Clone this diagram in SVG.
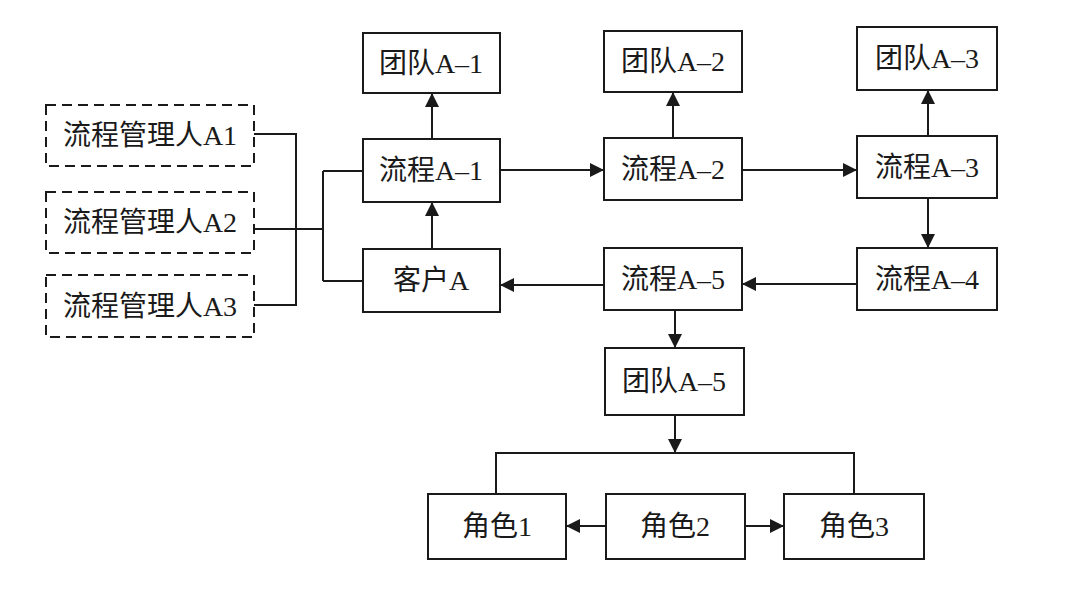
<svg xmlns="http://www.w3.org/2000/svg" width="1080" height="592" viewBox="0 0 1080 592">
<style>
.box{fill:#fff;stroke:#1a1a1a;stroke-width:2}
.dash{fill:#fff;stroke:#1a1a1a;stroke-width:2;stroke-dasharray:10 6}
.t{font-family:"Liberation Serif","Noto Sans CJK SC",serif;font-size:28px;fill:#1a1a1a;text-anchor:middle;dominant-baseline:central}
.c{fill:none;stroke:#1a1a1a;stroke-width:2}
</style>
<defs>
<marker id="ah" viewBox="0 0 10 10" refX="10" refY="5" markerWidth="7" markerHeight="7" orient="auto" markerUnits="strokeWidth">
<path d="M0,0 L10,5 L0,10 z" fill="#1a1a1a"/>
</marker>
</defs>
<rect width="1080" height="592" fill="#fff"/>
<g id="connectors">
<path class="c" d="M254,134 H296 V305 H254 M254,229 H323 M323,171 V281 M323,171 H363 M323,281 H363"/>
<path class="c" marker-end="url(#ah)" d="M432,139 V93"/>
<path class="c" marker-end="url(#ah)" d="M432,249 V202"/>
<path class="c" marker-end="url(#ah)" d="M500,170 H604"/>
<path class="c" marker-end="url(#ah)" d="M673,138 V92"/>
<path class="c" marker-end="url(#ah)" d="M742,170 H857"/>
<path class="c" marker-end="url(#ah)" d="M928,136 V90"/>
<path class="c" marker-end="url(#ah)" d="M928,198 V248"/>
<path class="c" marker-end="url(#ah)" d="M857,284 H742"/>
<path class="c" marker-end="url(#ah)" d="M604,285 H500"/>
<path class="c" marker-end="url(#ah)" d="M675,310 V348"/>
<path class="c" marker-end="url(#ah)" d="M675,415 V453"/>
<path class="c" d="M496,494 V453 H854 V494"/>
<path class="c" marker-end="url(#ah)" d="M606,526 H566"/>
<path class="c" marker-end="url(#ah)" d="M745,526 H784"/>
</g>
<g id="m1"><rect class="dash" x="46" y="105" width="208" height="61"/><text class="t" x="150" y="135">流程管理人A1</text></g>
<g id="m2"><rect class="dash" x="46" y="192" width="208" height="61"/><text class="t" x="150" y="222">流程管理人A2</text></g>
<g id="m3"><rect class="dash" x="46" y="275" width="208" height="62"/><text class="t" x="150" y="306">流程管理人A3</text></g>
<g id="team1"><rect class="box" x="363" y="33" width="137" height="60"/><text class="t" x="431" y="63">团队A–1</text></g>
<g id="proc1"><rect class="box" x="363" y="139" width="137" height="63"/><text class="t" x="431" y="170">流程A–1</text></g>
<g id="client"><rect class="box" x="363" y="249" width="137" height="63"/><text class="t" x="431" y="280">客户A</text></g>
<g id="team2"><rect class="box" x="604" y="31" width="138" height="61"/><text class="t" x="673" y="61">团队A–2</text></g>
<g id="proc2"><rect class="box" x="604" y="138" width="138" height="62"/><text class="t" x="673" y="169">流程A–2</text></g>
<g id="proc5"><rect class="box" x="604" y="248" width="138" height="62"/><text class="t" x="673" y="279">流程A–5</text></g>
<g id="team3"><rect class="box" x="857" y="27" width="140" height="63"/><text class="t" x="927" y="58">团队A–3</text></g>
<g id="proc3"><rect class="box" x="857" y="136" width="140" height="62"/><text class="t" x="927" y="167">流程A–3</text></g>
<g id="proc4"><rect class="box" x="857" y="248" width="140" height="62"/><text class="t" x="927" y="279">流程A–4</text></g>
<g id="team5"><rect class="box" x="605" y="348" width="139" height="67"/><text class="t" x="674" y="381">团队A–5</text></g>
<g id="role1"><rect class="box" x="428" y="494" width="138" height="65"/><text class="t" x="497" y="526">角色1</text></g>
<g id="role2"><rect class="box" x="606" y="494" width="139" height="65"/><text class="t" x="675" y="526">角色2</text></g>
<g id="role3"><rect class="box" x="784" y="494" width="140" height="65"/><text class="t" x="854" y="526">角色3</text></g>
</svg>
